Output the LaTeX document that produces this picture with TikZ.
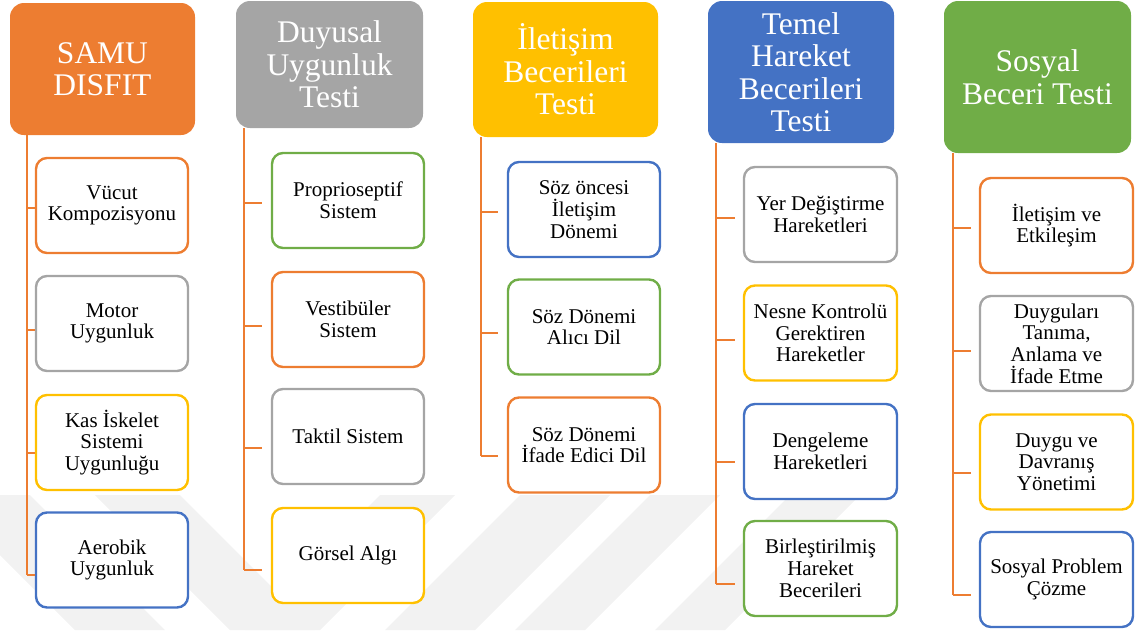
\documentclass[tikz,border=0pt]{standalone}
\usepackage{fontspec}
\setmainfont{Liberation Serif}
\definecolor{cOrange}{HTML}{ED7D31}
\definecolor{cGray}{HTML}{A5A5A5}
\definecolor{cYellow}{HTML}{FFC000}
\definecolor{cBlue}{HTML}{4472C4}
\definecolor{cGreen}{HTML}{70AD47}
\definecolor{cMark}{HTML}{F2F2F2}
\newcommand\headfont{\fontsize{31.5}{32.5}\selectfont}
\newcommand\itemfont{\fontsize{21}{21.7}\selectfont}
\tikzset{
  head/.style={rounded corners=14pt, fill=#1, draw=none, text=white,
    font=\headfont, align=center, inner sep=0pt},
  item/.style={rounded corners=11pt, draw=#1, line width=2.4pt, fill=white,
    font=\itemfont, align=center, inner sep=0pt, minimum width=152pt,
    minimum height=95pt},
  conn/.style={draw=cOrange, line width=2.8pt},
  stripe/.style={fill=cMark, draw=none}
}
\begin{document}
\begin{tikzpicture}[x=1pt,y=-1pt]
\useasboundingbox (0,0) rectangle (1139,630);

% faint background stripes
\fill[stripe] (-60,495) -- (30,495) -- (165,630) -- (75,630) -- cycle;
\fill[stripe] (95,495) -- (180,495) -- (315,630) -- (230,630) -- cycle;
\fill[stripe] (380,495) -- (455,495) -- (320,630) -- (245,630) -- cycle;
\fill[stripe] (520,495) -- (610,495) -- (475,630) -- (385,630) -- cycle;
\fill[stripe] (650,495) -- (720,495) -- (585,630) -- (515,630) -- cycle;
\fill[stripe] (790,495) -- (860,495) -- (725,630) -- (655,630) -- cycle;

% column 1: SAMU DISFIT
\node[head=cOrange, minimum width=185pt, minimum height=132pt] (h1) at (102.5,69) {SAMU\\DISFIT};
\node[item=cOrange] (a1) at (112,205.5) {Vücut\\Kompozisyonu};
\node[item=cGray]   (a2) at (112,323.5) {Motor\\Uygunluk};
\node[item=cYellow] (a3) at (112,442.5) {Kas İskelet\\Sistemi\\Uygunluğu};
\node[item=cBlue]   (a4) at (112,560) {Aerobik\\Uygunluk};
\draw[conn] (h1.south -| 27,0) -- (27,575);
\draw[conn] (27,208) -- (a1.west |- 0,208);
\draw[conn] (27,330) -- (a2.west |- 0,330);
\draw[conn] (27,453) -- (a3.west |- 0,453);
\draw[conn] (27,575) -- (a4.west |- 0,575);

% column 2: Duyusal Uygunluk Testi
\node[head=cGray, minimum width=187pt, minimum height=127pt] (h2) at (329.5,64.5) {Duyusal\\Uygunluk\\Testi};
\node[item=cGreen]  (b1) at (348,200.5) {Proprioseptif\\Sistem};
\node[item=cOrange] (b2) at (348,319.5) {Vestibüler\\Sistem};
\node[item=cGray]   (b3) at (348,436.5) {Taktil Sistem};
\node[item=cYellow] (b4) at (348,555.5) {Görsel Algı};
\draw[conn] (h2.south -| 244,0) -- (244,570);
\draw[conn] (244,203) -- ([xshift=-9pt]b1.west |- 0,203);
\draw[conn] (244,326) -- ([xshift=-9pt]b2.west |- 0,326);
\draw[conn] (244,448) -- ([xshift=-9pt]b3.west |- 0,448);
\draw[conn] (244,570) -- ([xshift=-9pt]b4.west |- 0,570);

% column 3: İletişim Becerileri Testi
\node[head=cYellow, minimum width=185pt, minimum height=135pt] (h3) at (565.5,69.5) {İletişim\\Becerileri\\Testi};
\node[item=cBlue]   (c1) at (584,209.5) {Söz öncesi\\İletişim\\Dönemi};
\node[item=cGreen]  (c2) at (584,327) {Söz Dönemi\\Alıcı Dil};
\node[item=cOrange] (c3) at (584,445) {Söz Dönemi\\İfade Edici Dil};
\draw[conn] (h3.south -| 481,0) -- (481,456);
\draw[conn] (481,212) -- ([xshift=-9pt]c1.west |- 0,212);
\draw[conn] (481,333) -- ([xshift=-9pt]c2.west |- 0,333);
\draw[conn] (481,456) -- ([xshift=-9pt]c3.west |- 0,456);

% column 4: Temel Hareket Becerileri Testi
\node[head=cBlue, minimum width=186pt, minimum height=142pt] (h4) at (801,72) {Temel\\Hareket\\Becerileri\\Testi};
\node[item=cGray, minimum width=153pt]   (d1) at (820.5,214.5) {Yer Değiştirme\\Hareketleri};
\node[item=cYellow, minimum width=153pt] (d2) at (820.5,333) {Nesne Kontrolü\\Gerektiren\\Hareketler};
\node[item=cBlue, minimum width=153pt]   (d3) at (820.5,451.5) {Dengeleme\\Hareketleri};
\node[item=cGreen, minimum width=153pt]  (d4) at (820.5,568.5) {Birleştirilmiş\\Hareket\\Becerileri};
\draw[conn] (h4.south -| 716,0) -- (716,584);
\draw[conn] (716,218) -- ([xshift=-8pt]d1.west |- 0,218);
\draw[conn] (716,340) -- ([xshift=-8pt]d2.west |- 0,340);
\draw[conn] (716,462) -- ([xshift=-8pt]d3.west |- 0,462);
\draw[conn] (716,584) -- ([xshift=-8pt]d4.west |- 0,584);

% column 5: Sosyal Beceri Testi
\node[head=cGreen, minimum width=187pt, minimum height=152pt] (h5) at (1037.5,77) {Sosyal\\Beceri Testi};
\node[item=cOrange, minimum width=153pt] (e1) at (1056.5,225.5) {İletişim ve\\Etkileşim};
\node[item=cGray, minimum width=153pt]   (e2) at (1056.5,343.5) {Duyguları\\Tanıma,\\Anlama ve\\İfade Etme};
\node[item=cYellow, minimum width=153pt] (e3) at (1056.5,462) {Duygu ve\\Davranış\\Yönetimi};
\node[item=cBlue, minimum width=153pt]   (e4) at (1056.5,579.5) {Sosyal Problem\\Çözme};
\draw[conn] (h5.south -| 953,0) -- (953,595);
\draw[conn] (953,228) -- ([xshift=-8pt]e1.west |- 0,228);
\draw[conn] (953,351) -- ([xshift=-8pt]e2.west |- 0,351);
\draw[conn] (953,473) -- ([xshift=-8pt]e3.west |- 0,473);
\draw[conn] (953,595) -- ([xshift=-8pt]e4.west |- 0,595);
\end{tikzpicture}
\end{document}
